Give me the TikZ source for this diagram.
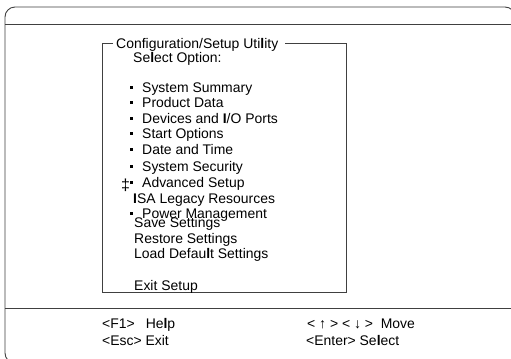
\documentclass[tikz,border=0pt]{standalone}
\usepackage{fontspec}
\setmainfont{Liberation Sans}
\begin{document}
\begin{tikzpicture}[x=1bp,y=-1bp,
  frame/.style={draw=black!75, line width=0.9bp},
  txt/.style={anchor=west, inner sep=0pt, text height=10bp, text depth=0pt, font=\fontsize{14}{16}\selectfont},
  bul/.style={fill=black, inner sep=0pt, minimum width=3bp, minimum height=3bp}]
\useasboundingbox (0,0) rectangle (511,358);
\clip (0,0) rectangle (511,358);
\fill[white] (0,0) rectangle (511,358);
% outer frame
\draw[frame, rounded corners=10bp] (5,7) rectangle (515,363);
\draw[frame] (5,24) -- (511,24);
\draw[frame] (5,308) -- (511,308);
% menu box
\node[txt] (title) at (116,43) {Configuration/Setup Uti\textbf{l}ity};
\draw[frame] ([xshift=-3bp]title.west) -- (102,43) -- (102,292) -- (346,292) -- (346,43) -- ([xshift=7bp]title.east);
\node[txt] (sel) at (133,57) {Se\textbf{l}ect Option:};
% bullet items
\foreach \n/\y/\t in {a/87/{System Summary}, b/102/{Product Data}, c/118/{Devices and \textbf{I}/O Ports}, d/133/{Start Options}, e/149/{Date and Time}, f/166/{System Security}, g/182/{Advanced Setup}, h/213/{Power Management}}{
  \node[bul] (b\n) at (131,\y) {};
  \node[txt] (t\n) at (142,\y) {\t};
}
\node[txt, font=\fontsize{16}{18}\selectfont] (mark) at (121,185) {‡};
\node[txt] (isa) at (133,198) {\textbf{I}SA Legacy Resources};
\node[txt] (save) at (134,222) {Save Settings};
\node[txt] (rest) at (134,238) {Restore Settings};
\node[txt] (load) at (134,253) {Load Defau\textbf{l}t Settings};
\node[txt] (exit) at (134,285) {Exit Setup};
% footer
\node[txt] (f1) at (102,323) {<F1>\hspace{11bp}He\textbf{l}p};
\node[txt] (esc) at (102,340) {<Esc> Exit};
\node[txt] (move) at (307,323) {< ↑ > < ↓ > \ Move};
\node[txt] (ent) at (306,340) {<Enter> Se\textbf{l}ect};
\end{tikzpicture}
\end{document}
